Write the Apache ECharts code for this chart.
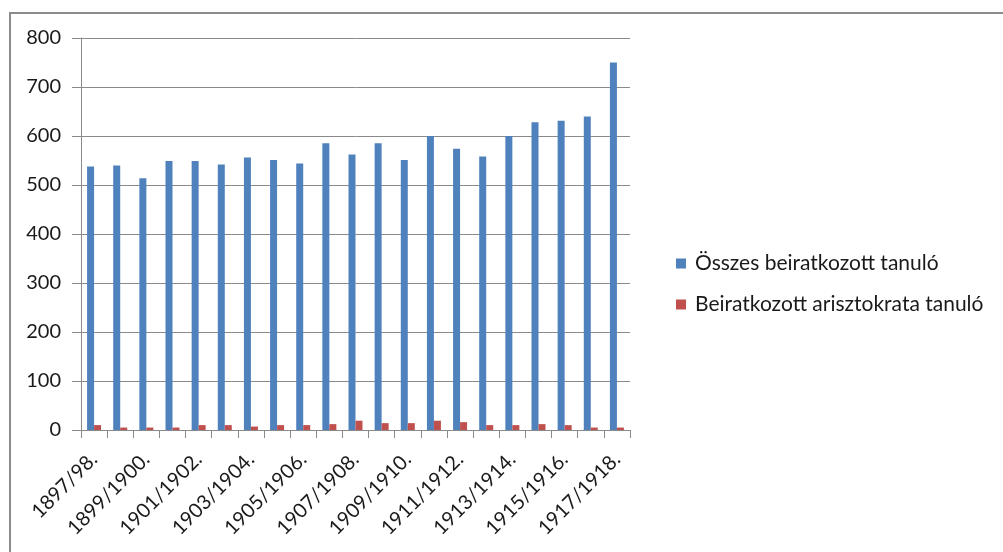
<!DOCTYPE html>
<html>
<head>
<meta charset="utf-8">
<script src="https://cdn.jsdelivr.net/npm/echarts@6/dist/echarts.min.js"></script>
<style>
  html, body { margin: 0; padding: 0; background: #fff; }
  #chart { width: 1003px; height: 552px; }
</style>
</head>
<body>
<div id="chart"></div>
<script>
// school years (every other one gets a label, like the original)
let years = ['1897/98.', '1898/99.', '1899/1900.', '1900/1901.', '1901/1902.', '1902/1903.',
    '1903/1904.', '1904/1905.', '1905/1906.', '1906/1907.', '1907/1908.', '1908/1909.',
    '1909/1910.', '1910/1911.', '1911/1912.', '1912/1913.', '1913/1914.', '1914/1915.',
    '1915/1916.', '1916/1917.', '1917/1918.'];
let osszes = [538, 540, 514, 549, 549, 542, 556, 551, 544, 585, 562,
    585, 551, 600, 574, 558, 600, 628, 631, 640, 750];
let arisztokrata = [10, 5, 5, 5, 10, 10, 7, 10, 10, 12, 19,
    14, 14, 19, 16, 10, 10, 12, 10, 5, 5];
let seriesNames = ['Összes beiratkozott tanuló', 'Beiratkozott arisztokrata tanuló'];

let font = 'Lato, "Liberation Sans", sans-serif';
let gridColor = '#8a8a8a';

let option = {
    animation: false,
    textStyle: { fontFamily: font },
    graphic: [{
        type: 'polyline',
        shape: { points: [[10, 560], [10, 13], [1010, 13]] },
        style: { stroke: '#8c8c8c', lineWidth: 2, fill: null },
        silent: true
    }],
    legend: {
        data: seriesNames,
        orient: 'vertical',
        left: 671,
        top: 248,
        itemWidth: 10,
        itemHeight: 10,
        itemGap: 20,
        icon: 'rect',
        textStyle: { fontSize: 21, color: '#1a1a1a', fontFamily: font, padding: [0, 0, 0, 4] }
    },
    grid: {
        left: 81,
        right: 373,
        top: 38,
        bottom: 122,
        containLabel: false
    },
    xAxis: {
        type: 'category',
        data: years,
        axisLine: { lineStyle: { color: gridColor, width: 1 } },
        axisTick: { show: true, length: 8, interval: 0, lineStyle: { color: gridColor } },
        axisLabel: {
            interval: 1,
            rotate: 45,
            fontSize: 20,
            color: '#1a1a1a',
            margin: 26
        }
    },
    yAxis: {
        type: 'value',
        min: 0,
        max: 800,
        interval: 100,
        axisLine: { show: true, lineStyle: { color: gridColor } },
        axisTick: { show: true, length: 9, lineStyle: { color: gridColor } },
        axisLabel: { fontSize: 20, color: '#1a1a1a', margin: 20 },
        splitLine: { lineStyle: { color: gridColor, width: 1 } }
    },
    series: [{
        name: seriesNames[0],
        type: 'bar',
        data: osszes,
        barWidth: 7,
        barGap: '0%',
        itemStyle: { color: '#4F81BD' }
    }, {
        name: seriesNames[1],
        type: 'bar',
        data: arisztokrata,
        barWidth: 7,
        itemStyle: { color: '#C0504D' }
    }]
};

let myChart = echarts.init(document.getElementById('chart'));
myChart.setOption(option);
</script>
</body>
</html>
